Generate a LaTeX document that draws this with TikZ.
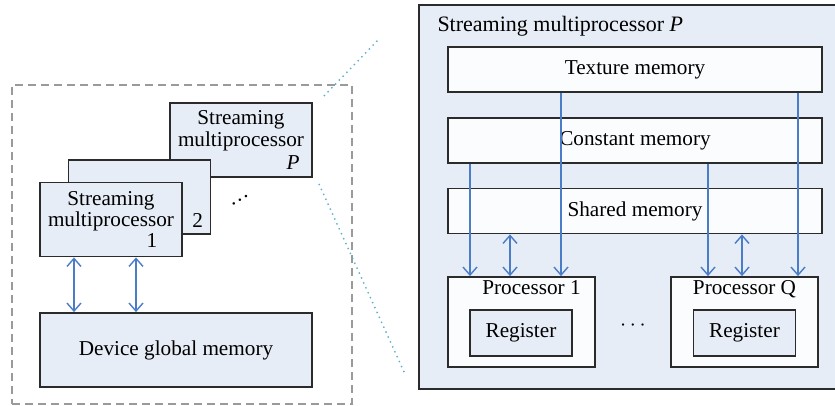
\documentclass[tikz,border=0pt]{standalone}
\usepackage{fontspec}
\setmainfont{Liberation Serif}
\usetikzlibrary{arrows.meta,calc,positioning}
\definecolor{boxCol}{HTML}{E7EDF6}
\definecolor{memCol}{HTML}{FBFCFD}
\definecolor{edgeCol}{HTML}{2B2B2B}
\definecolor{linkCol}{HTML}{4A7CC8}
\definecolor{zoomCol}{HTML}{5AB0C8}
\definecolor{frameCol}{HTML}{9A9A9A}
\newcommand{\lblfont}{\fontsize{10.6}{10.6}\selectfont}
\tikzset{
  smbox/.style={draw=edgeCol, fill=boxCol, line width=0.9pt, minimum width=71pt, minimum height=37pt,
                inner sep=0pt, align=center, font=\lblfont},
  membox/.style={draw=edgeCol, fill=memCol, line width=0.9pt, minimum width=187pt, minimum height=22.5pt,
                 inner sep=0pt, font=\lblfont},
  procbox/.style={draw=edgeCol, fill=memCol, line width=0.9pt, minimum width=73.5pt, minimum height=45pt, inner sep=0pt},
  regbox/.style={draw=edgeCol, fill=boxCol, line width=0.9pt, minimum width=51pt, minimum height=23pt,
                 inner sep=0pt, font=\lblfont},
  plbl/.style={anchor=north, inner sep=2pt, font=\lblfont},
  link/.style={-{Straight Barb[length=4pt,width=7pt]}, line width=0.7pt, linkCol},          % one-way read
  dlink/.style={{Straight Barb[length=4pt,width=7pt]}-{Straight Barb[length=4pt,width=7pt]},
                line width=0.7pt, linkCol},                                                  % read / write
  frame/.style={draw=frameCol, dash pattern=on 4pt off 2.5pt, line width=0.6pt},
  zoomln/.style={zoomCol, dotted, line width=0.7pt},
}

\begin{document}
\begin{tikzpicture}[x=0.5pt,y=-0.5pt]
  \useasboundingbox (0,0) rectangle (835,406);

  % device side
  \node[frame, minimum width=170pt, minimum height=159.5pt] (gpu) at (182,244.5) {};
  \node[smbox] (smP) at (241,140) {Streaming\\multiprocessor\\[1pt]\hspace*{52pt}\textit{P}};
  \node[smbox, label={[anchor=east, inner sep=0pt, xshift=-4pt, yshift=-11.5pt, font=\lblfont]east:2}] (sm2) at (139.5,197) {};
  \node[smbox] (sm1) at (111,219.5) {Streaming\\multiprocessor\\\hspace*{41pt}1};
  \node[rotate=31, inner sep=0pt, font=\lblfont] (more) at (240,200) {\ldots};
  \node[smbox, minimum width=136pt] (dev) at (176,350) {Device global memory};

  \coordinate (la) at ([xshift=-18.5pt]sm1.south);
  \coordinate (lb) at ([xshift=12.5pt]sm1.south);
  \draw[dlink] (la) -- (la |- dev.north);
  \draw[dlink] (lb) -- (lb |- dev.north);

  % zoomed multiprocessor
  \node[draw=edgeCol, fill=boxCol, line width=0.9pt, minimum width=215.5pt, minimum height=192pt] (smbig) at (634.5,197) {};
  \node[anchor=north west, inner sep=0pt, font=\fontsize{11}{11}\selectfont] (ttl)
       at ([xshift=9.5pt,yshift=-6pt]smbig.north west) {Streaming multiprocessor \textit{P}};
  \node[membox] (tex) at (635,69.5) {Texture memory};
  \node[membox] (const) at (635,140.5) {Constant memory};
  \node[membox] (shared) at (635,211) {Shared memory};
  \node[procbox, label={[plbl, xshift=5pt]north:Processor 1}] (proc1) at (521.5,322) {};
  \node[procbox, label={[plbl]north:Processor Q}] (procQ) at (744.5,322) {};
  \node[regbox] (reg1) at (521,333) {Register};
  \node[regbox] (regQ) at (744.5,333) {Register};
  \node[inner sep=0pt, font=\lblfont] (gap) at (633,326) {$\cdots$};

  \foreach \src/\dx/\dst/\kind in {const/-82.5pt/proc1/link, tex/-37pt/proc1/link, shared/-62.5pt/proc1/dlink,
                                   const/36.5pt/procQ/link, shared/53.5pt/procQ/dlink, tex/81.5pt/procQ/link}{
    \coordinate (p) at ([xshift=\dx]\src.south);
    \draw[\kind] (p) -- (p |- \dst.north);
  }

  \coordinate (zt) at (380,38);
  \coordinate (zb) at (405,374);
  \draw[zoomln] ($(smP.north east)+(11,-6)$) -- (zt);
  \draw[zoomln] ($(smP.south east)+(6,6)$) -- (zb);
\end{tikzpicture}
\end{document}
